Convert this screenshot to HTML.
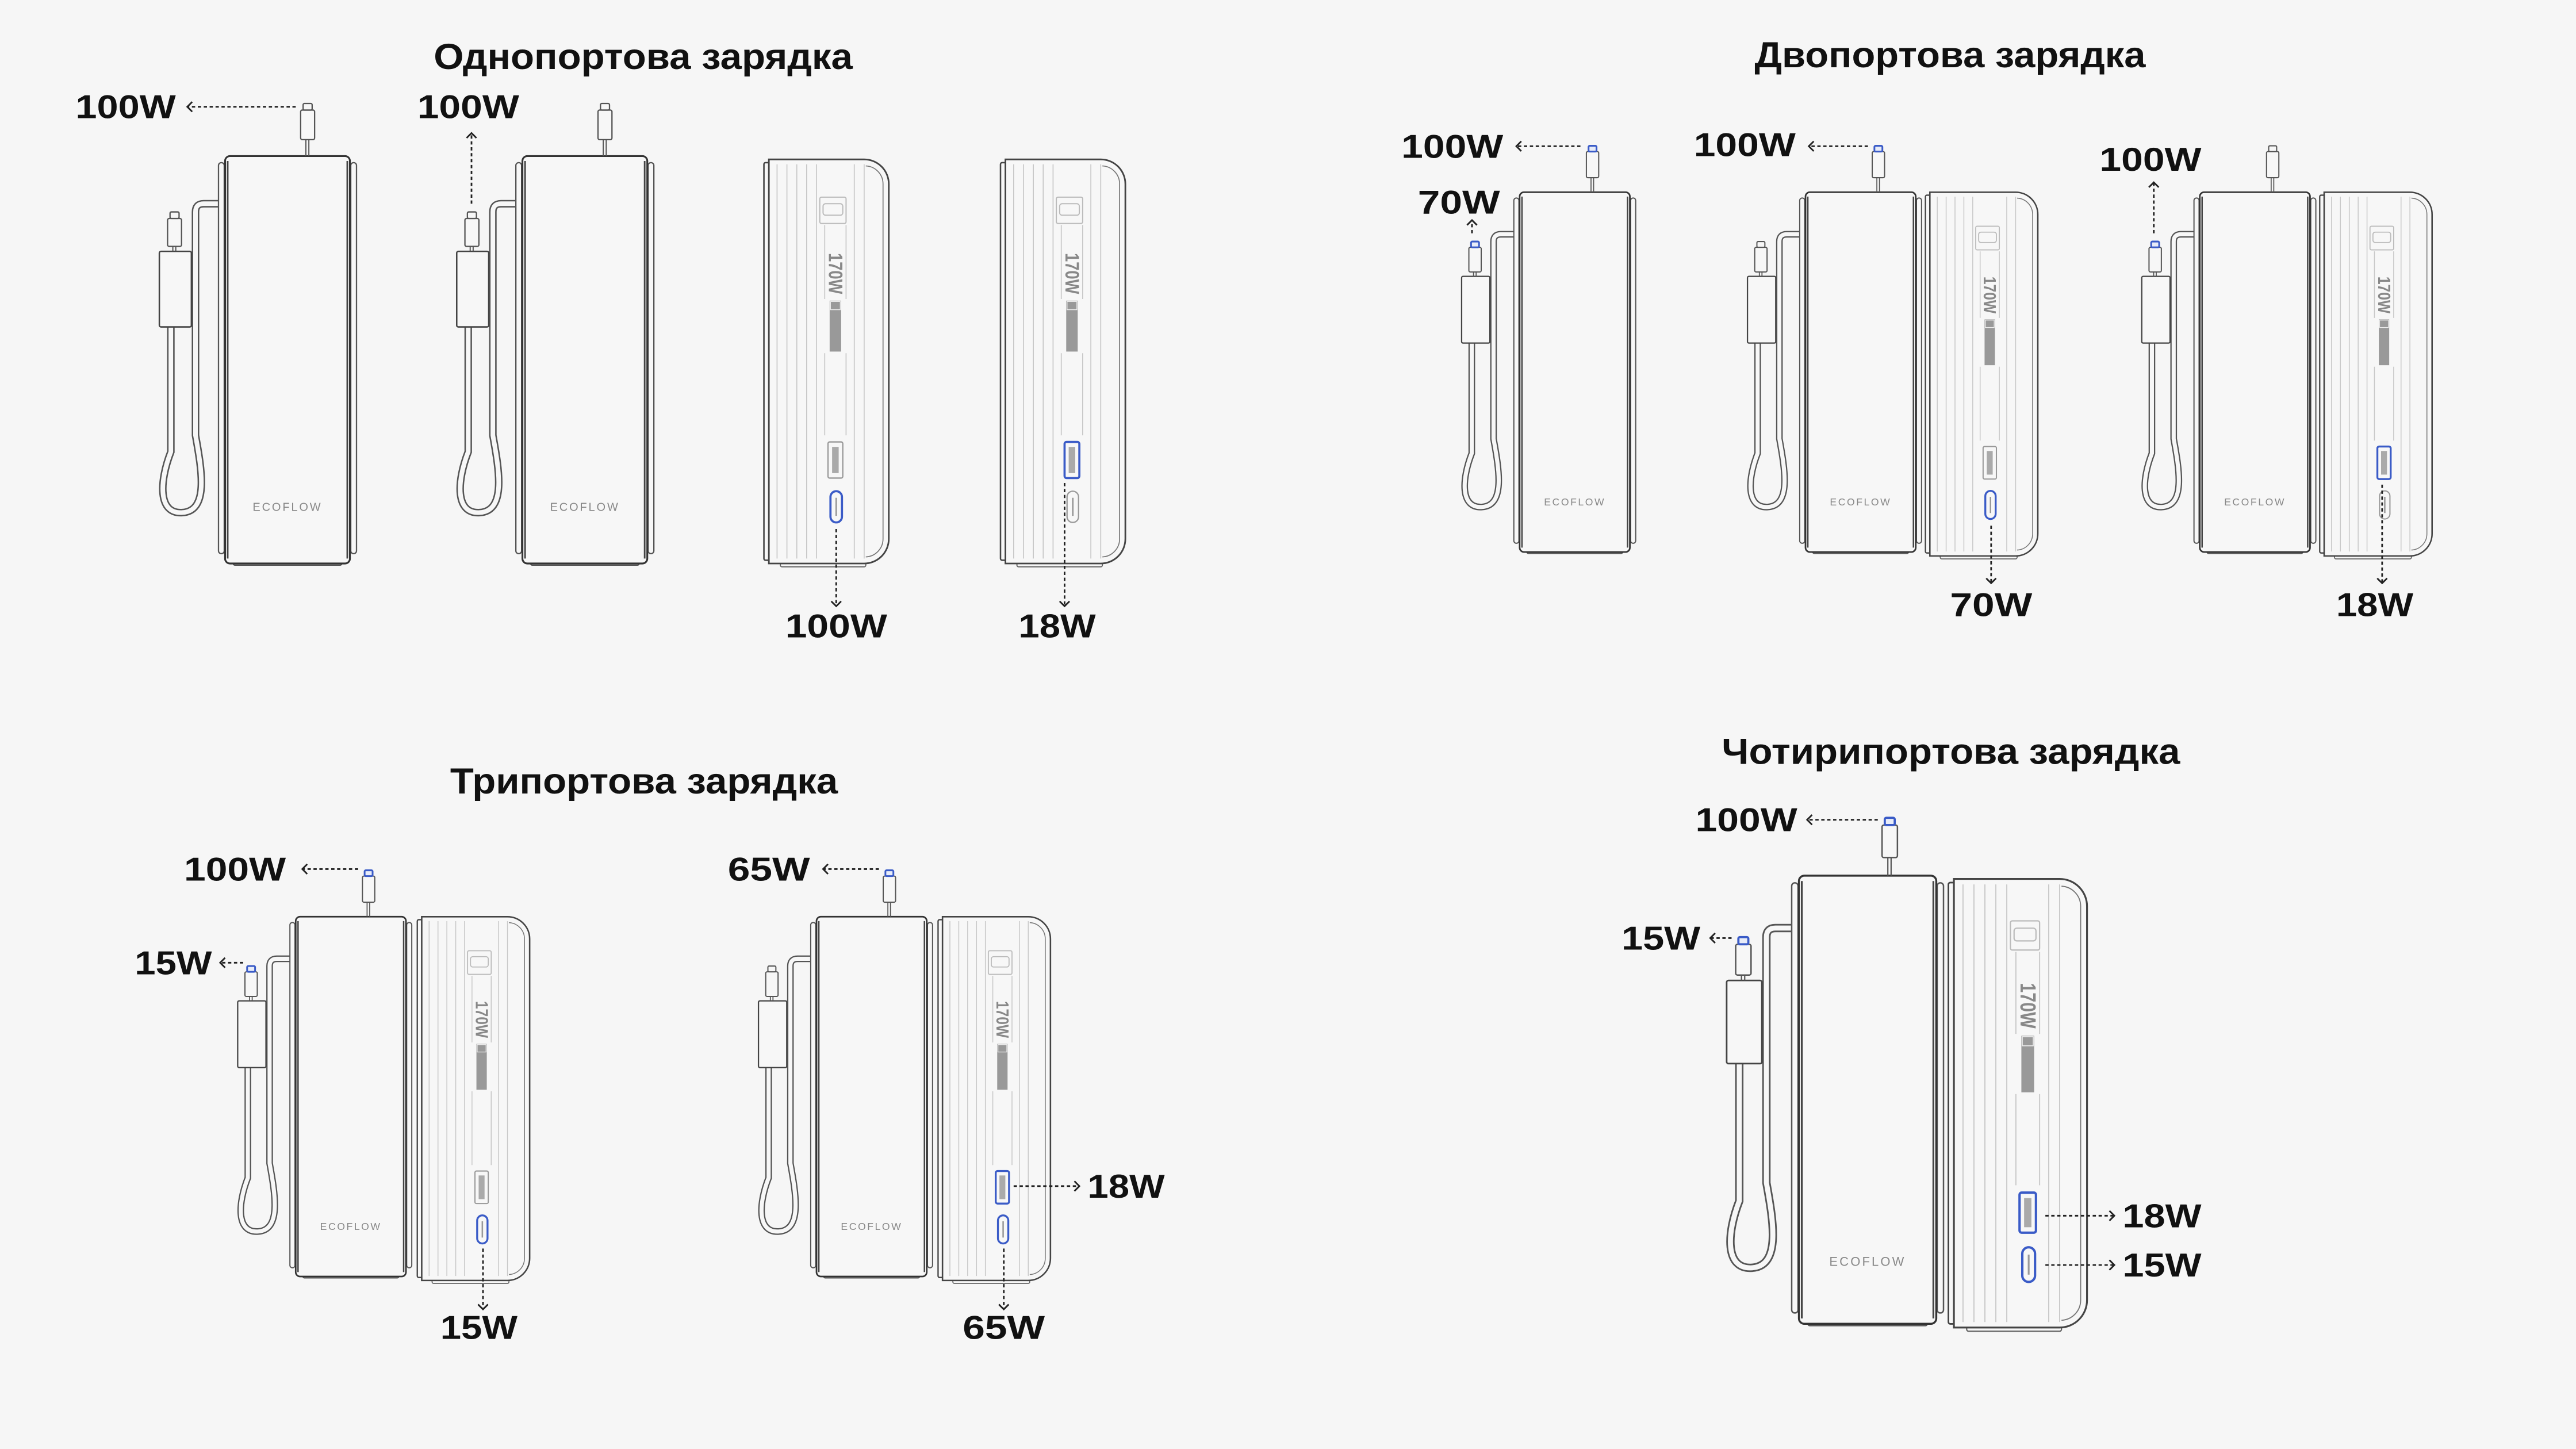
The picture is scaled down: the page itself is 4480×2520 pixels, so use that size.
<!DOCTYPE html>
<html><head><meta charset="utf-8"><style>
html,body{margin:0;padding:0;background:#f6f6f6;}
svg{display:block;}
</style></head><body>
<svg xmlns="http://www.w3.org/2000/svg" xmlns:xlink="http://www.w3.org/1999/xlink" width="4480" height="2520" viewBox="0 0 1568 882">
<rect width="1568" height="882" fill="#f6f6f6"/>
<defs>
  <g id="front">
    <path d="M -1 29 H -13 Q -18 29 -18 34 V 170 C -14 192 -10 216 -26 217 C -41 218 -40 198 -33 180 V 104" fill="none" stroke="#555" stroke-width="4.6"/>
    <path d="M -1 29 H -13 Q -18 29 -18 34 V 170 C -14 192 -10 216 -26 217 C -41 218 -40 198 -33 180 V 104" fill="none" stroke="#f7f7f7" stroke-width="2.8"/>
    <rect x="-4" y="4" width="3.5" height="238" rx="1.7" fill="#f7f7f7" stroke="#555" stroke-width="0.8"/>
    <rect x="76.5" y="4" width="3.5" height="238" rx="1.7" fill="#f7f7f7" stroke="#555" stroke-width="0.8"/>
    <rect x="5" y="244" width="66" height="5" rx="1" fill="#f7f7f7" stroke="#555" stroke-width="0.8"/>
    <rect x="0" y="0" width="76" height="248" rx="3" fill="#f7f7f7" stroke="#333" stroke-width="1.1"/>
    <line x1="1.6" y1="3" x2="1.6" y2="245" stroke="#444" stroke-width="1"/>
    <line x1="74.4" y1="3" x2="74.4" y2="245" stroke="#444" stroke-width="1"/>
    <text x="38" y="216" font-family="Liberation Sans, sans-serif" font-size="7" fill="#888" text-anchor="middle" letter-spacing="1">ECOFLOW</text>
    <rect x="-40" y="58" width="19.5" height="46" rx="1" fill="#f7f7f7" stroke="#444" stroke-width="0.9"/>
    <line x1="49.2" y1="-10" x2="49.2" y2="0" stroke="#555" stroke-width="0.7"/>
    <line x1="51" y1="-10" x2="51" y2="0" stroke="#555" stroke-width="0.7"/>
    <rect x="46" y="-28" width="8.5" height="18" rx="1" fill="#f7f7f7" stroke="#555" stroke-width="0.8"/>
    <rect x="47.5" y="-32" width="5.5" height="4" rx="0.8" fill="#f7f7f7" stroke="#555" stroke-width="0.8"/>
    <line x1="-31.8" y1="55" x2="-31.8" y2="58" stroke="#555" stroke-width="0.7"/>
    <line x1="-30" y1="55" x2="-30" y2="58" stroke="#555" stroke-width="0.7"/>
    <rect x="-35" y="38" width="8.5" height="17" rx="1" fill="#f7f7f7" stroke="#555" stroke-width="0.8"/>
    <rect x="-33.5" y="34" width="5.5" height="4" rx="0.8" fill="#f7f7f7" stroke="#555" stroke-width="0.8"/>
  </g>
  <rect id="tipTop" x="47.5" y="-32" width="5.5" height="4" rx="0.8" fill="#e8ecf8" stroke="#3a5bc7" stroke-width="1.2"/>
  <rect id="tip2" x="-33.5" y="34" width="5.5" height="4" rx="0.8" fill="#e8ecf8" stroke="#3a5bc7" stroke-width="1.2"/>
  <g id="side">
    <rect x="10" y="244" width="52" height="4" rx="1" fill="#f7f7f7" stroke="#666" stroke-width="0.7"/>
    <rect x="0" y="2" width="4" height="242" rx="1" fill="#f7f7f7" stroke="#444" stroke-width="0.9"/>
    <path d="M3 0 H61 A15 15 0 0 1 76 15 V231 A15 15 0 0 1 61 246 H3 Z" fill="#f7f7f7" stroke="#444" stroke-width="1"/>
    <path d="M62 4 A11 11 0 0 1 72.5 15 V231 A11 11 0 0 1 62 242" fill="none" stroke="#777" stroke-width="0.6"/>
    <g stroke="#c8c8c8" stroke-width="0.6">
      <line x1="8" y1="3" x2="8" y2="243"/><line x1="14" y1="3" x2="14" y2="243"/>
      <line x1="20" y1="3" x2="20" y2="243"/><line x1="26" y1="3" x2="26" y2="243"/>
      <line x1="32" y1="3" x2="32" y2="243"/>
      <line x1="37" y1="40" x2="37" y2="85"/><line x1="37" y1="118" x2="37" y2="168"/>
      <line x1="50" y1="40" x2="50" y2="85"/><line x1="50" y1="118" x2="50" y2="168"/>
      <line x1="55" y1="3" x2="55" y2="243"/><line x1="61" y1="3" x2="61" y2="243"/>
    </g>
    <rect x="34" y="23" width="16" height="16" rx="1" fill="none" stroke="#bbb" stroke-width="0.7"/>
    <rect x="36" y="27" width="12" height="7" rx="1.5" fill="none" stroke="#bbb" stroke-width="0.7"/>
    <text transform="translate(39.5,57) rotate(90)" font-family="Liberation Sans, sans-serif" font-size="12" fill="#888" font-weight="bold" textLength="25" lengthAdjust="spacingAndGlyphs">170W</text>
    <rect x="40" y="86" width="7" height="31" fill="#999"/>
    <rect x="40.5" y="86.5" width="6" height="5" fill="none" stroke="#eee" stroke-width="0.5"/>
  </g>
  <g id="pA"><rect x="39" y="172" width="9" height="22" rx="1" fill="none" stroke="#999" stroke-width="0.8"/><rect x="41.5" y="175" width="4" height="16" fill="#aaa"/></g>
  <g id="pAb"><rect x="39" y="172" width="9" height="22" rx="1.2" fill="none" stroke="#3a5bc7" stroke-width="1.3"/><rect x="41.5" y="175" width="4" height="16" fill="#aaa"/></g>
  <g id="pC"><rect x="40.5" y="202" width="7" height="19" rx="3.5" fill="none" stroke="#999" stroke-width="0.8"/><line x1="44" y1="206" x2="44" y2="217" stroke="#999" stroke-width="1"/></g>
  <g id="pCb"><rect x="40.5" y="202" width="7" height="19" rx="3.5" fill="none" stroke="#3a5bc7" stroke-width="1.3"/><line x1="44" y1="206" x2="44" y2="217" stroke="#999" stroke-width="1"/></g>
</defs>

<g font-family="Liberation Sans, sans-serif" font-weight="bold" fill="#111" font-size="22">
  <text x="264" y="42" textLength="255" lengthAdjust="spacingAndGlyphs">Однопортова зарядка</text>
  <text x="1068" y="41" textLength="238" lengthAdjust="spacingAndGlyphs">Двопортова зарядка</text>
  <text x="274" y="483" textLength="236" lengthAdjust="spacingAndGlyphs">Трипортова зарядка</text>
  <text x="1048" y="465" textLength="279" lengthAdjust="spacingAndGlyphs">Чотирипортова зарядка</text>
</g>

<g transform="translate(137,95)"><use href="#front"/></g>
<g transform="translate(318,95)"><use href="#front"/></g>
<g transform="translate(465,97)"><use href="#side"/><use href="#pA"/><use href="#pCb"/></g>
<g transform="translate(609,97)"><use href="#side"/><use href="#pAb"/><use href="#pC"/></g>

<g transform="translate(925,117) scale(0.883)"><use href="#front"/><use href="#tipTop"/><use href="#tip2"/></g>
<g transform="translate(1172,117) scale(0.9)"><use href="#side"/><use href="#pA"/><use href="#pCb"/></g>
<g transform="translate(1099,117) scale(0.883)"><use href="#front"/><use href="#tipTop"/></g>
<g transform="translate(1412,117) scale(0.9)"><use href="#side"/><use href="#pAb"/><use href="#pC"/></g>
<g transform="translate(1339,117) scale(0.883)"><use href="#front"/><use href="#tip2"/></g>

<g transform="translate(254,558) scale(0.9)"><use href="#side"/><use href="#pA"/><use href="#pCb"/></g>
<g transform="translate(180,558) scale(0.883)"><use href="#front"/><use href="#tipTop"/><use href="#tip2"/></g>
<g transform="translate(571,558) scale(0.9)"><use href="#side"/><use href="#pAb"/><use href="#pCb"/></g>
<g transform="translate(497,558) scale(0.883)"><use href="#front"/><use href="#tipTop"/></g>

<g transform="translate(1186,535) scale(1.11)"><use href="#side"/><use href="#pAb"/><use href="#pCb"/></g>
<g transform="translate(1095,533) scale(1.1)"><use href="#front"/><use href="#tipTop"/><use href="#tip2"/></g>

<g fill="none" stroke="#222" stroke-width="1" stroke-dasharray="2 1.6">
  <line x1="180" y1="65" x2="114" y2="65"/>
  <line x1="287" y1="124" x2="287" y2="81"/>
  <line x1="509" y1="322" x2="509" y2="369"/>
  <line x1="648" y1="294" x2="648" y2="369"/>
  <line x1="962" y1="89" x2="923" y2="89"/>
  <line x1="896" y1="142" x2="896" y2="134"/>
  <line x1="1137" y1="89" x2="1101" y2="89"/>
  <line x1="1212" y1="320" x2="1212" y2="355"/>
  <line x1="1311" y1="142" x2="1311" y2="111"/>
  <line x1="1450" y1="295" x2="1450" y2="355"/>
  <line x1="218" y1="529" x2="184" y2="529"/>
  <line x1="148" y1="586" x2="134" y2="586"/>
  <line x1="294" y1="760" x2="294" y2="797"/>
  <line x1="535" y1="529" x2="501" y2="529"/>
  <line x1="617" y1="722" x2="657" y2="722"/>
  <line x1="611" y1="760" x2="611" y2="797"/>
  <line x1="1143" y1="499" x2="1100" y2="499"/>
  <line x1="1054" y1="571" x2="1041" y2="571"/>
  <line x1="1245" y1="740" x2="1287" y2="740"/>
  <line x1="1245" y1="770" x2="1287" y2="770"/>
</g>
<g fill="none" stroke="#222" stroke-width="1">
  <polyline points="117,62 114,65 117,68"/>
  <polyline points="284,84 287,81 290,84"/>
  <polyline points="506,366 509,369 512,366"/>
  <polyline points="645,366 648,369 651,366"/>
  <polyline points="926,86 923,89 926,92"/>
  <polyline points="893,137 896,134 899,137"/>
  <polyline points="1104,86 1101,89 1104,92"/>
  <polyline points="1209,352 1212,355 1215,352"/>
  <polyline points="1308,114 1311,111 1314,114"/>
  <polyline points="1447,352 1450,355 1453,352"/>
  <polyline points="187,526 184,529 187,532"/>
  <polyline points="137,583 134,586 137,589"/>
  <polyline points="291,794 294,797 297,794"/>
  <polyline points="504,526 501,529 504,532"/>
  <polyline points="654,719 657,722 654,725"/>
  <polyline points="608,794 611,797 614,794"/>
  <polyline points="1103,496 1100,499 1103,502"/>
  <polyline points="1044,568 1041,571 1044,574"/>
  <polyline points="1284,737 1287,740 1284,743"/>
  <polyline points="1284,767 1287,770 1284,773"/>
</g>

<g font-family="Liberation Sans, sans-serif" font-weight="bold" fill="#111" font-size="20">
  <text x="46" y="72" textLength="61" lengthAdjust="spacingAndGlyphs">100W</text>
  <text x="254" y="72" textLength="62" lengthAdjust="spacingAndGlyphs">100W</text>
  <text x="478" y="388" textLength="62" lengthAdjust="spacingAndGlyphs">100W</text>
  <text x="620" y="388" textLength="47" lengthAdjust="spacingAndGlyphs">18W</text>
  <text x="853" y="96" textLength="62" lengthAdjust="spacingAndGlyphs">100W</text>
  <text x="863" y="130" textLength="50" lengthAdjust="spacingAndGlyphs">70W</text>
  <text x="1031" y="95" textLength="62" lengthAdjust="spacingAndGlyphs">100W</text>
  <text x="1187" y="375" textLength="50" lengthAdjust="spacingAndGlyphs">70W</text>
  <text x="1278" y="104" textLength="62" lengthAdjust="spacingAndGlyphs">100W</text>
  <text x="1422" y="375" textLength="47" lengthAdjust="spacingAndGlyphs">18W</text>
  <text x="112" y="536" textLength="62" lengthAdjust="spacingAndGlyphs">100W</text>
  <text x="82" y="593" textLength="47" lengthAdjust="spacingAndGlyphs">15W</text>
  <text x="268" y="815" textLength="47" lengthAdjust="spacingAndGlyphs">15W</text>
  <text x="443" y="536" textLength="50" lengthAdjust="spacingAndGlyphs">65W</text>
  <text x="662" y="729" textLength="47" lengthAdjust="spacingAndGlyphs">18W</text>
  <text x="586" y="815" textLength="50" lengthAdjust="spacingAndGlyphs">65W</text>
  <text x="1032" y="506" textLength="62" lengthAdjust="spacingAndGlyphs">100W</text>
  <text x="987" y="578" textLength="48" lengthAdjust="spacingAndGlyphs">15W</text>
  <text x="1292" y="747" textLength="48" lengthAdjust="spacingAndGlyphs">18W</text>
  <text x="1292" y="777" textLength="48" lengthAdjust="spacingAndGlyphs">15W</text>
</g>
</svg>
</body></html>
